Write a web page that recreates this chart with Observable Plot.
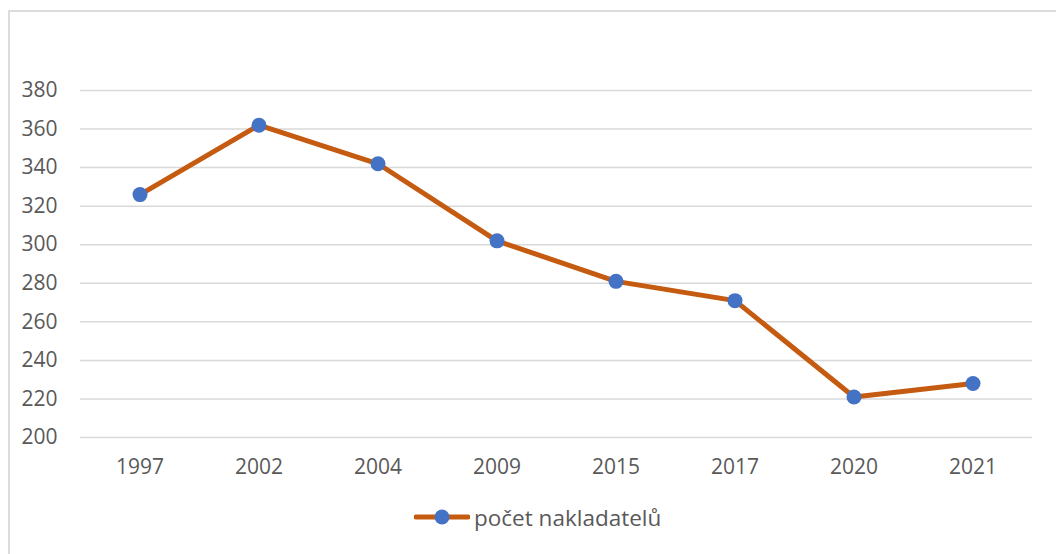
<!DOCTYPE html>
<html>
<head>
<meta charset="utf-8">
<script src="https://cdn.jsdelivr.net/npm/d3@7"></script>
<script src="https://cdn.jsdelivr.net/npm/@observablehq/plot@0.6"></script>
<style>
  html, body { margin: 0; padding: 0; background: #fff; width: 1056px; height: 554px; overflow: hidden; }
  #frame { position: absolute; left: 8px; top: 10px; width: 1200px; height: 700px;
           border-top: 2px solid #dcdcdc; border-left: 2px solid #dcdcdc; box-sizing: border-box; }
  #chart { position: absolute; left: 0; top: 0; }
  #legend { position: absolute; left: 414px; top: 502px; height: 30px; display: flex; align-items: center;
            font-family: "Open Sans", sans-serif; font-size: 22.5px; color: #595959; }
  #legend svg { margin-right: 4px; }
</style>
</head>
<body>
<div id="frame"></div>
<div id="chart"></div>
<div id="legend"></div>
<script>
const years = ["1997", "2002", "2004", "2009", "2015", "2017", "2020", "2021"];
const counts = [326, 362, 342, 302, 281, 271, 221, 228];
const yTicks = [200, 220, 240, 260, 280, 300, 320, 340, 360, 380];
const seriesName = "počet nakladatelů";

const lineColor = "#C55A11";
const dotColor = "#4472C4";

const data = years.map((y, i) => ({year: y, count: counts[i]}));

const plot = Plot.plot({
  width: 1056,
  height: 490,
  marginLeft: 80,
  marginRight: 24,
  marginTop: 90,
  marginBottom: 53,
  style: {fontFamily: "Open Sans, sans-serif", fontSize: "21px", color: "#595959", background: "transparent", overflow: "visible"},
  x: {type: "point", domain: years, padding: 0.5, round: false, label: null},
  y: {domain: [200, 380], label: null},
  marks: [
    Plot.ruleY(yTicks, {stroke: "#d9d9d9", strokeWidth: 1.5}),
    Plot.axisY({ticks: yTicks, tickSize: 0, tickPadding: 23, label: null, fontSize: 21}),
    Plot.axisX({tickSize: 0, tickPadding: 22, label: null, fontSize: 21}),
    Plot.line(data, {x: "year", y: "count", stroke: lineColor, strokeWidth: 5, strokeLinejoin: "round"}),
    Plot.dot(data, {x: "year", y: "count", r: 7.5, fill: dotColor, stroke: "none"})
  ]
});
document.getElementById("chart").appendChild(plot);

const legend = document.getElementById("legend");
legend.innerHTML = `<svg width="56" height="20"><line x1="2" y1="10" x2="54" y2="10" stroke="${lineColor}" stroke-width="5" stroke-linecap="round"/><circle cx="28" cy="10" r="7.5" fill="${dotColor}"/></svg><span></span>`;
legend.querySelector("span").textContent = seriesName;
</script>
</body>
</html>
